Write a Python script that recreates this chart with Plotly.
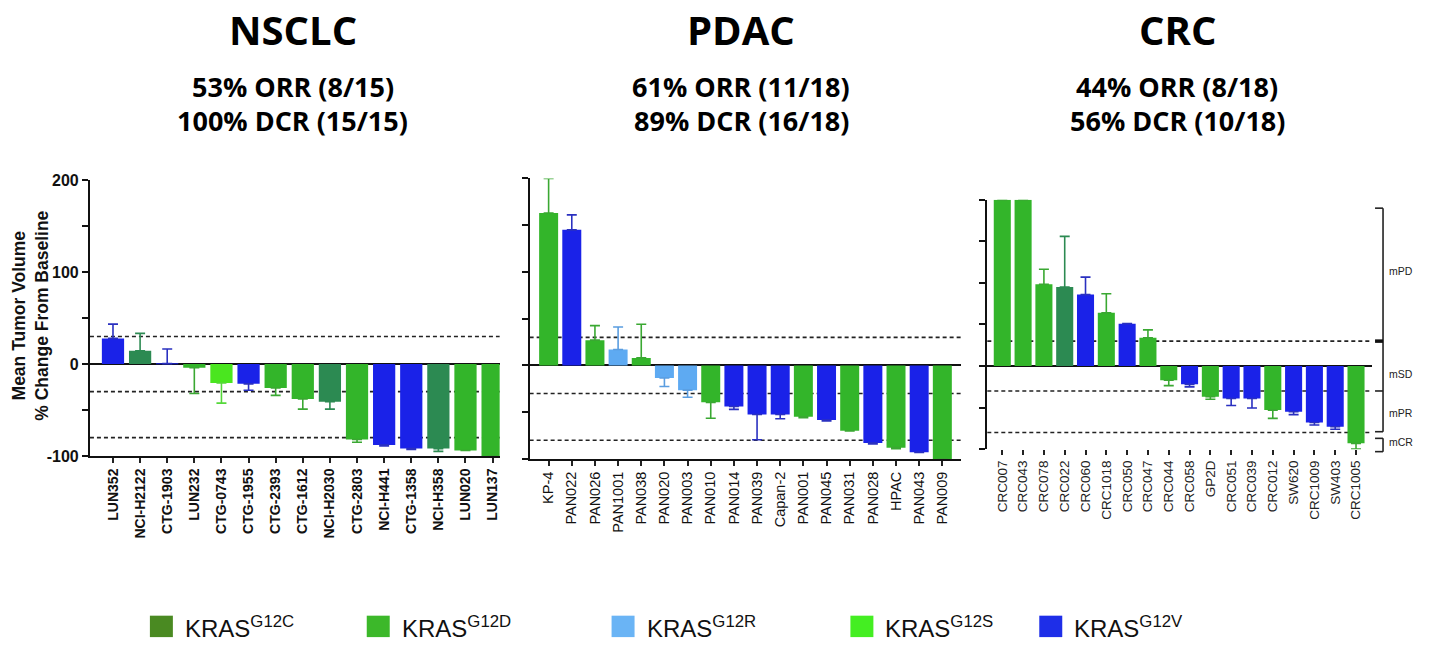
import plotly.graph_objects as go

W, H = 1429, 650

# ---------------- data ----------------
nsclc_models = ["LUN352", "NCI-H2122", "CTG-1903", "LUN232", "CTG-0743", "CTG-1955", "CTG-2393",
                "CTG-1612", "NCI-H2030", "CTG-2803", "NCI-H441", "CTG-1358", "NCI-H358", "LUN020", "LUN137"]
nsclc_values = [28, 14.5, 0.5, -4, -20.5, -21.5, -26, -38, -41, -82, -88, -92, -92, -94, -100]
nsclc_err = [15.5, 19, 16, 28, 22, 7, 8, 11, 8, 3, 1, 1, 3, 0, 0]
nsclc_geno = ["G12V", "G12C", "G12V", "G12D", "G12S", "G12V", "G12D", "G12D", "G12C", "G12D",
              "G12V", "G12V", "G12C", "G12D", "G12D"]

pdac_models = ["KP-4", "PAN022", "PAN026", "PAN1001", "PAN038", "PAN020", "PAN003", "PAN010", "PAN014",
               "PAN039", "Capan-2", "PAN001", "PAN045", "PAN031", "PAN028", "HPAC", "PAN043", "PAN009"]
pdac_values = [163, 145, 27, 17, 8, -13.5, -26.5, -39.5, -44, -52.5, -52.5, -55, -58.5, -70, -83, -88, -93, -100]
pdac_err = [37, 16, 15.5, 24, 36, 9, 7.5, 17, 3, 27, 4.5, 1, 1, 0, 1, 1, 0, 0]
pdac_geno = ["G12D", "G12V", "G12D", "G12R", "G12D", "G12R", "G12R", "G12D", "G12V",
             "G12V", "G12V", "G12D", "G12V", "G12D", "G12V", "G12D", "G12V", "G12D"]

crc_models = ["CRC007", "CRC043", "CRC078", "CRC022", "CRC060", "CRC1018", "CRC050", "CRC047", "CRC044",
              "CRC058", "GP2D", "CRC051", "CRC039", "CRC012", "SW620", "CRC1009", "SW403", "CRC1005"]
crc_values = [200, 200, 98.5, 95, 86, 64, 51, 34, -17, -22, -37, -39, -39, -53, -55, -68, -73, -93]
crc_err = [0, 0, 18, 61, 21, 23, 0, 9.5, 6.5, 3, 3, 8.5, 11.5, 10, 3.5, 3, 3, 7]
crc_geno = ["G12D", "G12D", "G12D", "G12C", "G12V", "G12D", "G12V", "G12D", "G12D",
            "G12V", "G12D", "G12V", "G12V", "G12D", "G12V", "G12V", "G12V", "G12D"]

titles = ["NSCLC", "PDAC", "CRC"]
subtitles = [["53% ORR (8/15)", "100% DCR (15/15)"],
             ["61% ORR (11/18)", "89% DCR (16/18)"],
             ["44% ORR (8/18)", "56% DCR (10/18)"]]

thresholds = [30, -30, -80]
y_ticks = [-100, 0, 100, 200]
y_ticklabels = ["-100", "0", "100", "200"]

genotypes = ["G12C", "G12D", "G12R", "G12S", "G12V"]
response_labels = ["mPD", "mSD", "mPR", "mCR"]
response_label_y = [114, -10, -57, -91]

# ---------------- styles ----------------
bar_colors = {"G12C": "#2c8a52", "G12D": "#33b52a", "G12R": "#5eaaf2", "G12S": "#4ae61f", "G12V": "#1a22e8"}
err_colors = {"G12C": "#2c8a52", "G12D": "#3aa832", "G12R": "#5a9de0", "G12S": "#55d83a", "G12V": "#2a30c0"}
legend_colors = {"G12C": "#4a8a22", "G12D": "#3cb82a", "G12R": "#6ab4f5", "G12S": "#44ee22", "G12V": "#1e2ee8"}

# pixel layout of panels: x px (left, right), y px (top=200, bottom=-100), x range
panels = [
    dict(models=nsclc_models, values=nsclc_values, err=nsclc_err, geno=nsclc_geno,
         xpx=(90, 500), ypx=(177, 460), xr=(-0.85, 14.26), bw=0.82, xa="x", ya="y",
         labfont=dict(family="Liberation Sans", size=14, color="#111"), bold=True, showx=True, showy=True,
         title_x=293),
    dict(models=pdac_models, values=pdac_values, err=pdac_err, geno=pdac_geno,
         xpx=(530, 962), ypx=(175, 463), xr=(-0.82, 17.82), bw=0.82, xa="x2", ya="y2",
         labfont=dict(family="Liberation Sans", size=14.5, color="#111"), bold=False, showx=True, showy=False,
         title_x=742),
    dict(models=crc_models, values=crc_values, err=crc_err, geno=crc_geno,
         xpx=(988, 1373), ypx=(197, 453), xr=(-0.72, 17.77), bw=0.82, xa="x3", ya="y3",
         labfont=dict(family="Liberation Sans", size=13.5, color="#222"), bold=False, showx=False, showy=False,
         title_x=1178),
]

fig = go.Figure()
layout_axes = {}
shapes = []
annotations = []

for p in panels:
    n = len(p["models"])
    for g in genotypes:
        idx = [i for i in range(n) if p["geno"][i] == g]
        if not idx:
            continue
        vals = [p["values"][i] for i in idx]
        up = [p["err"][i] if p["values"][i] >= 0 else 0 for i in idx]
        dn = [p["err"][i] if p["values"][i] < 0 else 0 for i in idx]
        fig.add_trace(go.Bar(
            x=idx, y=vals, width=p["bw"], xaxis=p["xa"], yaxis=p["ya"],
            marker=dict(color=bar_colors[g], line=dict(width=0)),
            error_y=dict(type="data", symmetric=False, array=up, arrayminus=dn,
                         color=err_colors[g], thickness=1.6, width=5),
            showlegend=False, name=g))

    xdom = [p["xpx"][0] / W, p["xpx"][1] / W]
    ydom = [1 - p["ypx"][1] / H, 1 - p["ypx"][0] / H]
    xkey = "xaxis" + p["xa"][1:]
    ykey = "yaxis" + p["ya"][1:]
    ticktext = [("<b>%s</b>" % m) if p["bold"] else m for m in p["models"]]
    layout_axes[xkey] = dict(
        domain=xdom, anchor=p["ya"], range=list(p["xr"]), tickmode="array",
        tickvals=list(range(n)), ticktext=ticktext, tickangle=-90, tickfont=p["labfont"],
        ticks="outside", ticklen=5, tickwidth=1.5, tickcolor="#222",
        showline=p["showx"], linecolor="#111", linewidth=2, showgrid=False, zeroline=False,
        fixedrange=True)
    layout_axes[ykey] = dict(
        domain=ydom, anchor=p["xa"], range=[-100, 200], tickmode="array",
        tickvals=y_ticks, ticktext=["<b>%s</b>" % t for t in y_ticklabels],
        showticklabels=p["showy"],
        tickfont=dict(family="Liberation Sans", size=16, color="#111"),
        ticks="outside", ticklen=6, tickwidth=1.5, tickcolor="#111",
        minor=dict(dtick=50, tick0=0, ticks="outside", ticklen=6, tickwidth=1.5, tickcolor="#111"),
        showline=True, linecolor="#111", linewidth=2, showgrid=False,
        zeroline=True, zerolinecolor="#111", zerolinewidth=2, fixedrange=True)

    xd = p["xa"] + " domain"
    for t in thresholds:
        shapes.append(dict(type="line", xref=xd, yref=p["ya"], x0=0, x1=1, y0=t, y1=t,
                           line=dict(color="#222", width=1.6, dash="4px,3px"), layer="below"))

# titles
for i, p in enumerate(panels):
    annotations.append(dict(text="<b>%s</b>" % titles[i], x=p["title_x"] / W, y=1 - 22 / H,
                            xref="paper", yref="paper", showarrow=False,
                            font=dict(family="Open Sans", size=40, color="#000"),
                            xanchor="center", yanchor="middle"))
    for j, s in enumerate(subtitles[i]):
        annotations.append(dict(text="<b>%s</b>" % s, x=p["title_x"] / W, y=1 - (81 + 35 * j) / H,
                                xref="paper", yref="paper", showarrow=False,
                                font=dict(family="Open Sans", size=27, color="#000"),
                                xanchor="center", yanchor="middle"))

# y-axis title
annotations.append(dict(text="<b>Mean Tumor Volume<br>% Change From Baseline</b>", textangle=-90,
                        x=31 / W, y=1 - 316 / H, xref="paper", yref="paper", showarrow=False,
                        font=dict(family="Liberation Sans", size=17.5, color="#111"),
                        xanchor="center", yanchor="middle"))

# CRC response brackets on the right
crc = panels[2]
c_dom = [1 - crc["ypx"][1] / H, 1 - crc["ypx"][0] / H]


def crc_y(v):
    return c_dom[0] + (v + 100) / 300 * (c_dom[1] - c_dom[0])


bx = 1384 / W
tk = 8 / W
br_line = dict(color="#222", width=1.6)
shapes.append(dict(type="line", xref="paper", yref="paper", x0=bx, x1=bx, y0=crc_y(190), y1=crc_y(-79), line=br_line))
for v in [190, -30, -79]:
    shapes.append(dict(type="line", xref="paper", yref="paper", x0=bx - tk, x1=bx, y0=crc_y(v), y1=crc_y(v), line=br_line))
shapes.append(dict(type="line", xref="paper", yref="paper", x0=bx - tk, x1=bx, y0=crc_y(30), y1=crc_y(30),
                   line=dict(color="#111", width=3.5)))
shapes.append(dict(type="line", xref="paper", yref="paper", x0=bx, x1=bx, y0=crc_y(-87), y1=crc_y(-103), line=br_line))
for v in [-87, -103]:
    shapes.append(dict(type="line", xref="paper", yref="paper", x0=bx - tk, x1=bx, y0=crc_y(v), y1=crc_y(v), line=br_line))
for lab, v in zip(response_labels, response_label_y):
    annotations.append(dict(text=lab, x=(bx * W + 4) / W, y=crc_y(v), xref="paper", yref="paper",
                            showarrow=False, xanchor="left", yanchor="middle",
                            font=dict(family="Liberation Sans", size=10.5, color="#222")))

# legend (drawn)
legend_x = [150, 367, 612, 851, 1040]
for g, lx in zip(genotypes, legend_x):
    shapes.append(dict(type="rect", xref="paper", yref="paper", x0=lx / W, x1=(lx + 23) / W,
                       y0=1 - 646 / H, y1=1 - 624 / H, fillcolor=legend_colors[g], line=dict(width=0)))
    annotations.append(dict(text="KRAS<sup>%s</sup>" % g, x=(lx + 33) / W, y=1 - 636 / H,
                            xref="paper", yref="paper", showarrow=False, xanchor="left", yanchor="middle",
                            font=dict(family="Liberation Sans", size=24, color="#111")))

fig.update_layout(
    width=W, height=H, margin=dict(l=0, r=0, t=0, b=0),
    paper_bgcolor="white", plot_bgcolor="rgba(0,0,0,0)",
    barmode="overlay", showlegend=False,
    shapes=shapes, annotations=annotations, **layout_axes)

fig.write_html("out.html", config={"displayModeBar": False},
               post_script="document.body.style.margin='0';document.body.style.padding='0';")
